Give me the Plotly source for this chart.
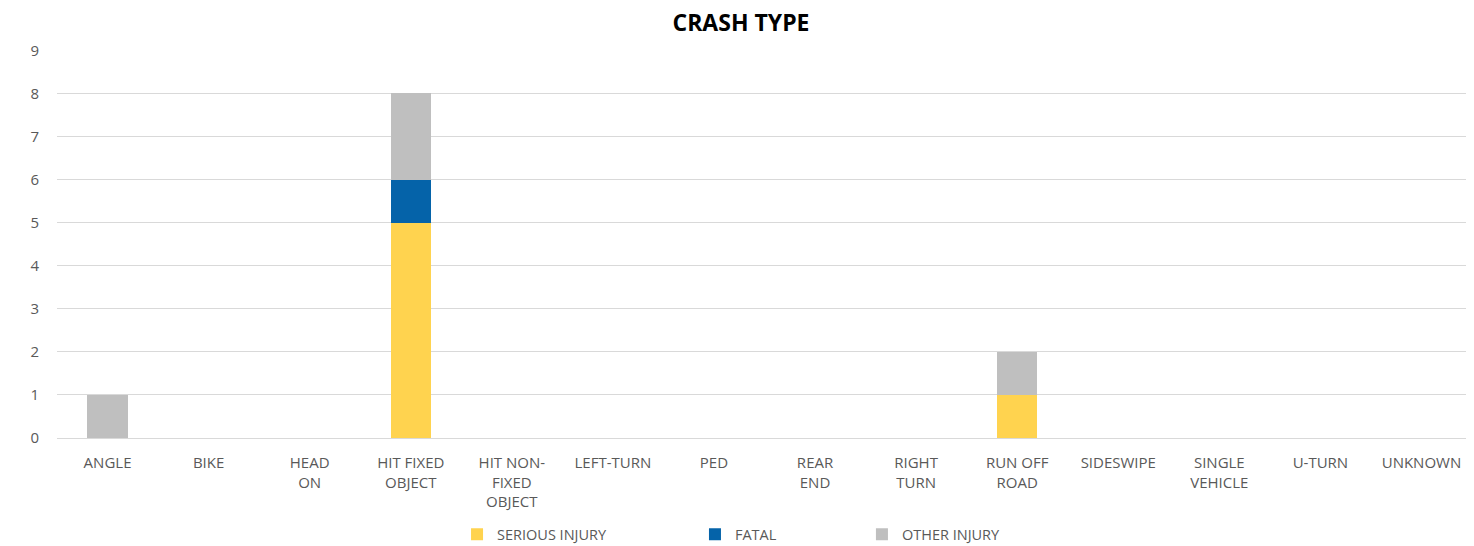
import plotly.graph_objects as go

categories = ["ANGLE", "BIKE", "HEAD<br>ON", "HIT FIXED<br>OBJECT", "HIT NON-<br>FIXED<br>OBJECT",
              "LEFT-TURN", "PED", "REAR<br>END", "RIGHT<br>TURN", "RUN OFF<br>ROAD",
              "SIDESWIPE", "SINGLE<br>VEHICLE", "U-TURN", "UNKNOWN"]
serious_injury = [0, 0, 0, 5, 0, 0, 0, 0, 0, 1, 0, 0, 0, 0]
fatal = [0, 0, 0, 1, 0, 0, 0, 0, 0, 0, 0, 0, 0, 0]
other_injury = [1, 0, 0, 2, 0, 0, 0, 0, 0, 1, 0, 0, 0, 0]
y_ticks = list(range(0, 10))

FONT = "Open Sans"
TXT = "#595959"

fig = go.Figure()
fig.add_bar(x=categories, y=serious_injury, name="SERIOUS INJURY", marker_color="#FFD34F",
            marker_line_width=0, legend="legend")
fig.add_bar(x=categories, y=fatal, name="FATAL", marker_color="#0563A9",
            marker_line_width=0, legend="legend2")
fig.add_bar(x=categories, y=other_injury, name="OTHER INJURY", marker_color="#BFBFBF",
            marker_line_width=0, legend="legend3")

leg_common = dict(orientation="h", xref="container", yref="container", y=0.0215, yanchor="middle",
                  xanchor="left", font=dict(family=FONT, size=14.5, color=TXT),
                  bgcolor="rgba(0,0,0,0)")

fig.update_layout(
    barmode="stack",
    bargap=0.6,
    width=1466, height=538,
    margin=dict(l=49, r=2, t=42, b=108),
    paper_bgcolor="white", plot_bgcolor="white",
    font=dict(family=FONT, size=14, color=TXT),
    title=dict(text="<b>CRASH TYPE</b>", x=0.5, xanchor="center", y=0.972, yanchor="middle",
               font=dict(family=FONT, size=23, color="black")),
    xaxis=dict(showgrid=False, showline=False, ticks="", automargin=False,
               ticklabelstandoff=14, tickfont=dict(size=15, color=TXT)),
    yaxis=dict(range=[0, 9.01], tickvals=y_ticks, showgrid=True, gridcolor="#D9D9D9", gridwidth=1.3,
               zeroline=True, zerolinecolor="#D9D9D9", zerolinewidth=1.3, automargin=False,
               ticks="", ticklabelstandoff=17, tickfont=dict(size=15, color=TXT)),
    legend=dict(x=0.3063, **leg_common),
    legend2=dict(x=0.4686, **leg_common),
    legend3=dict(x=0.5825, **leg_common),
    showlegend=True,
)

fig.write_html("out.html")
